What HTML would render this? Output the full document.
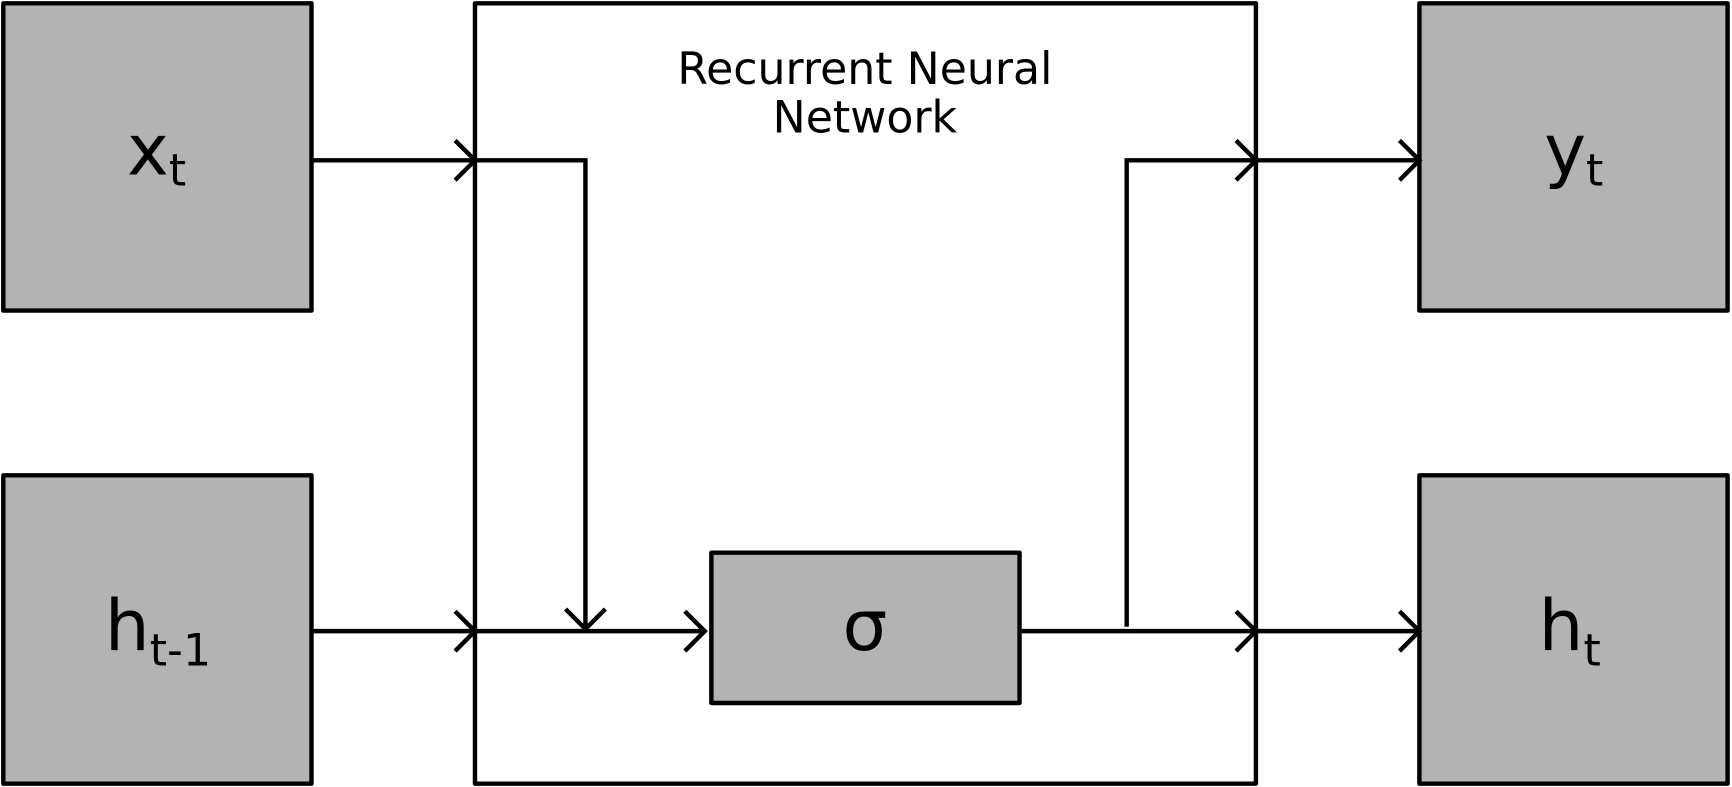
<!DOCTYPE html>
<html><head><meta charset="utf-8"><style>
html,body{margin:0;padding:0;background:#fff;}
svg{display:block;}
text{font-family:"DejaVu Sans","Liberation Sans",sans-serif;fill:#000;}
</style></head><body>
<svg width="1732" height="787" viewBox="0 0 1568 712" preserveAspectRatio="none" xmlns="http://www.w3.org/2000/svg">
<g stroke="#000" stroke-width="4" stroke-linejoin="round">
<rect x="3" y="3" width="279" height="278" fill="#b3b3b3"/>
<rect x="3" y="430" width="279" height="279" fill="#b3b3b3"/>
<rect x="430" y="3" width="707" height="706" fill="#fff"/>
<rect x="1285" y="3" width="279" height="278" fill="#b3b3b3"/>
<rect x="1285" y="430" width="279" height="279" fill="#b3b3b3"/>
<rect x="644" y="500" width="279" height="136" fill="#b3b3b3"/>
</g>
<g stroke="#000" stroke-width="4" fill="none">
<polyline points="282,145 430,145 530,145 530,569"/>
<line x1="282" y1="571" x2="638" y2="571"/>
<line x1="925" y1="571" x2="1283" y2="571"/>
<polyline points="1020,567 1020,145 1283,145"/>
<polyline points="412,127 430,145 412,163"/>
<polyline points="412,553 430,571 412,589"/>
<polyline points="620,553 638,571 620,589"/>
<polyline points="512,551 530,569 548,551"/>
<polyline points="1119,127 1137,145 1119,163"/>
<polyline points="1267,127 1285,145 1267,163"/>
<polyline points="1119,553 1137,571 1119,589"/>
<polyline points="1267,553 1285,571 1267,589"/>
</g>
<text x="783" y="76" font-size="40" text-anchor="middle">Recurrent Neural</text>
<text x="783" y="120" font-size="40" text-anchor="middle">Network</text>
<text x="115" y="158" font-size="64">x<tspan font-size="40" dy="10">t</tspan></text>
<text x="95" y="588" font-size="64">h<tspan font-size="40" dy="14">t-1</tspan></text>
<text x="1398" y="158" font-size="64">y<tspan font-size="40" dy="10">t</tspan></text>
<text x="1393" y="588" font-size="64">h<tspan font-size="40" dy="14">t</tspan></text>
<text x="783" y="588" font-size="64" text-anchor="middle">σ</text>
</svg>
</body></html>
